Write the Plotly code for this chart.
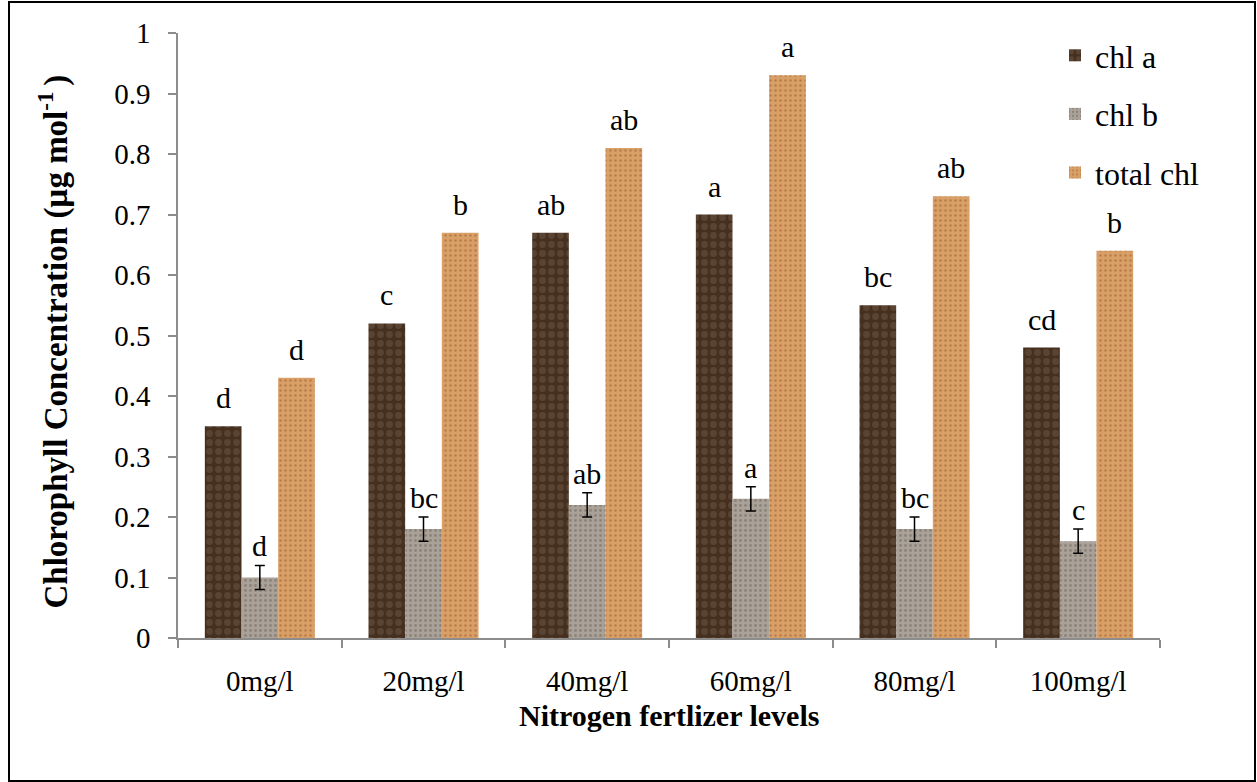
import plotly.graph_objects as go

categories = ["0mg/l", "20mg/l", "40mg/l", "60mg/l", "80mg/l", "100mg/l"]
chl_a = [0.35, 0.52, 0.67, 0.70, 0.55, 0.48]
chl_b = [0.10, 0.18, 0.22, 0.23, 0.18, 0.16]
total_chl = [0.43, 0.67, 0.81, 0.93, 0.73, 0.64]
chl_b_err = [0.02, 0.02, 0.02, 0.02, 0.02, 0.02]
letters_a = ["d", "c", "ab", "a", "bc", "cd"]
letters_b = ["d", "bc", "ab", "a", "bc", "c"]
letters_t = ["d", "b", "ab", "a", "ab", "b"]
y_ticks = [0, 0.1, 0.2, 0.3, 0.4, 0.5, 0.6, 0.7, 0.8, 0.9, 1]
y_tick_text = ["0", "0.1", "0.2", "0.3", "0.4", "0.5", "0.6", "0.7", "0.8", "0.9", "1"]

FONT = "Liberation Serif"
W, H = 1257, 782
ML, MR, MT, MB = 178, 97, 33, 144
PW = W - ML - MR
PH = H - MT - MB

fig = go.Figure()
fig.add_trace(go.Bar(
    name="chl a", x=categories, y=chl_a, legendgroup="a",
    marker=dict(color="#45301f", line=dict(width=0),
                pattern=dict(shape=".", fgcolor="#6d5545", size=9, solidity=0.45, fillmode="overlay")),
))
fig.add_trace(go.Bar(
    name="chl b", x=categories, y=chl_b, legendgroup="b",
    marker=dict(color="#aaa298", line=dict(width=0),
                pattern=dict(shape=".", fgcolor="#6c645c", size=5, solidity=0.25, fillmode="overlay")),
    error_y=dict(type="data", array=chl_b_err, visible=True, color="black", thickness=1.5, width=5),
))
fig.add_trace(go.Bar(
    name="total chl", x=categories, y=total_chl, legendgroup="t",
    marker=dict(color="#d89f66", line=dict(width=0),
                pattern=dict(shape=".", fgcolor="#9a5a2c", size=5, solidity=0.2, fillmode="overlay")),
))

gap = 0.328
bw = PW / len(categories) * (1 - gap) / 3
annots = []
for i, c in enumerate(categories):
    annots.append(dict(x=c, y=chl_a[i], xref="x", yref="y", text=letters_a[i], showarrow=False,
                       xshift=-bw, yshift=10, yanchor="bottom", font=dict(size=30)))
    annots.append(dict(x=c, y=chl_b[i] + chl_b_err[i], xref="x", yref="y", text=letters_b[i], showarrow=False,
                       xshift=0, yshift=1, yanchor="bottom", font=dict(size=30)))
    annots.append(dict(x=c, y=total_chl[i], xref="x", yref="y", text=letters_t[i], showarrow=False,
                       xshift=bw, yshift=10, yanchor="bottom", font=dict(size=30)))

annots.append(dict(x=(54 - ML) / PW, y=0.49, xref="paper", yref="paper", textangle=-90,
                   text="<b>Chlorophyll Concentration (µg mol<sup>-1 </sup>)</b>", showarrow=False,
                   font=dict(size=33), xanchor="center", yanchor="middle"))
annots.append(dict(x=0.5, y=(638 - 715) / PH, xref="paper", yref="paper",
                   text="<b>Nitrogen fertlizer levels</b>", showarrow=False,
                   font=dict(size=30), xanchor="center", yanchor="middle"))

fig.update_layout(
    width=W, height=H,
    margin=dict(l=ML, r=MR, t=MT, b=MB, autoexpand=False),
    paper_bgcolor="white", plot_bgcolor="white",
    font=dict(family=FONT, size=29, color="black"),
    barmode="group", bargap=gap, bargroupgap=0,
    showlegend=True,
    legend=dict(x=(1055 - ML) / PW, y=(638 - 28) / PH, xanchor="left", yanchor="top",
                bgcolor="rgba(0,0,0,0)", font=dict(size=32), tracegroupgap=14,
                traceorder="grouped"),
    annotations=annots,
    shapes=[dict(type="rect", xref="paper", yref="paper",
                 x0=(9 - ML) / PW, x1=(1255 - ML) / PW,
                 y0=(638 - 781) / PH, y1=(638 - 2) / PH,
                 line=dict(color="black", width=2), fillcolor="rgba(0,0,0,0)", layer="below")],
    xaxis=dict(showline=True, linecolor="#8c8c8c", linewidth=1.5, ticks="outside", tickson="boundaries",
               ticklen=8, tickcolor="#8c8c8c", tickwidth=1.5, showgrid=False, ticklabelstandoff=16,
               tickfont=dict(size=29)),
    yaxis=dict(range=[0, 1], tickvals=y_ticks, ticktext=y_tick_text, showline=True, linecolor="#8c8c8c",
               linewidth=1.5, ticks="outside", ticklen=8, tickcolor="#8c8c8c", tickwidth=1.5,
               showgrid=False, zeroline=False, ticklabelstandoff=12, tickfont=dict(size=29)),
)

fig.write_html("out.html")
